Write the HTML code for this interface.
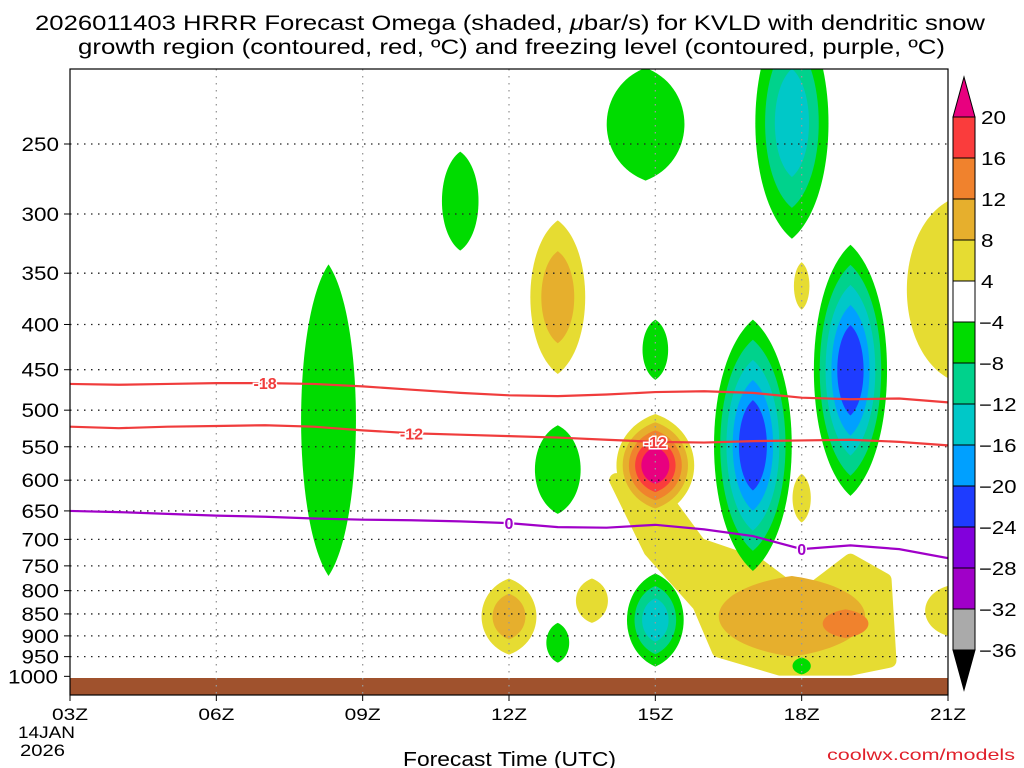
<!DOCTYPE html>
<html><head><meta charset="utf-8"><style>
html,body{margin:0;padding:0;background:#fff;width:1024px;height:768px;overflow:hidden}
svg text{font-family:"Liberation Sans",sans-serif}
</style></head><body>
<svg id="chart" width="1024" height="768" xmlns="http://www.w3.org/2000/svg">
<g id="title">
<text x="35" y="30" font-size="21" textLength="950" lengthAdjust="spacingAndGlyphs">2026011403 HRRR Forecast Omega (shaded, <tspan font-style="italic">μ</tspan>bar/s) for KVLD with dendritic snow</text>
<text x="78" y="54" font-size="21" textLength="867" lengthAdjust="spacingAndGlyphs">growth region (contoured, red, ºC) and freezing level (contoured, purple, ºC)</text>
</g>
<defs><clipPath id="pc"><rect x="70" y="69" width="878" height="626"/></clipPath></defs>
<g id="shades" clip-path="url(#pc)"></g>
<rect x="70" y="678" width="878" height="17" fill="#a0522d"/>
<g id="grid"></g>
<g id="lines" clip-path="url(#pc)"></g>
<rect x="70" y="69" width="878" height="626" fill="none" stroke="#000" stroke-width="1.2"/>
<g id="axes"></g>
<g id="cbar"></g>
<text x="403" y="766" font-size="20" textLength="213" lengthAdjust="spacingAndGlyphs">Forecast Time (UTC)</text>
<text x="827" y="760" font-size="16" textLength="188" lengthAdjust="spacingAndGlyphs" fill="#e0202a">coolwx.com/models</text>
</svg>
<script>
const xTickLabels=["03Z","06Z","09Z","12Z","15Z","18Z","21Z"];
const xTickHours=[0,3,6,9,12,15,18];
const yTicks=[250,300,350,400,450,500,550,600,650,700,750,800,850,900,950,1000];
const cbLevels=[20,16,12,8,4,-4,-8,-12,-16,-20,-24,-28,-32,-36];
const cbColors=["#e8007f","#fa3c3c","#f0822d","#e6af2d","#e6dc32","#ffffff","#00dc00","#00d28c","#00c8c8","#00a0ff","#1e3cff","#8200dc","#a000c8","#aaaaaa","#000000"];
const C={m:"#e8007f",r:"#fa3c3c",o12:"#f0822d",o8:"#e6af2d",y:"#e6dc32",g:"#00dc00",tg:"#00d28c",cy:"#00c8c8",lb:"#00a0ff",b:"#1e3cff"};
// blobs: time(h from 03Z), pTop, pBot, halfWidth(h), color bins outer->inner
const blobT=[5.3,8.0,11.8,12.0,10.0,14.0,16.0,14.8,12.0,10.0,15.0,10.0,12.0,14.8,15.9,9.0,10.7,15.0,15.0,18.0,18.0];
const blobTop=[342,255,205,395,520,395,325,175,765,870,952,305,505,770,840,775,775,340,590,290,790];
const blobBot=[770,330,275,462,655,760,625,320,975,965,995,455,660,950,905,945,870,385,670,460,900];
const blobHW=[0.6,0.4,0.85,0.28,0.5,0.85,0.8,0.8,0.62,0.25,0.2,0.6,0.85,1.6,0.5,0.6,0.35,0.17,0.2,0.9,0.5];
const blobBins=[["g"],["g"],["g"],["g"],["g"],["g","tg","cy","lb","b"],["g","tg","cy","lb","b"],["g","tg","cy"],["g","tg","cy"],["g"],["g"],["y","o8"],["y","o8","o12","r","m"],["o8"],["o12"],["y","o8"],["y"],["y"],["y"],["y"],["y"]];
const tailT=[11.2,12.3,12.9,14.1,15.0,16.0,16.7,16.8,16.0,14.55,13.3,12.9,11.9];
const tailP=[600,640,710,748,815,740,778,960,980,980,935,830,720];
const lineHours=[0,1,2,3,4,5,6,7,8,9,10,11,12,13,14,15,16,17,18];
const lineM18=[467,468,467,466,466,467,470,474,478,481,482,480,477,476,478,484,486,485,490];
const lineM12=[522,524,522,521,520,522,527,531,533,535,537,540,543,544,542,541,540,543,548];
const line0=[650,652,655,658,660,663,665,666,668,671,678,679,674,682,694,718,711,718,735];
const NS="http://www.w3.org/2000/svg";
const X=h=>70+h*(878/18);
const Y=p=>144+384*Math.log(p/250);
function mk(tag,attrs,parent){const e=document.createElementNS(NS,tag);for(const k in attrs)e.setAttribute(k,attrs[k]);parent.appendChild(e);return e;}
const sh=document.getElementById('shades');
function lens(t,top,bot,hw,k){const cx=X(t),yt=Y(top),yb=Y(bot),cy=(yt+yb)/2;const h=(yb-yt)/2*k,w=(X(hw)-X(0))*k;const a=cy-h,b=cy+h;
return `M${cx},${a} C${cx+w*1.25},${a+h*0.35} ${cx+w*1.25},${b-h*0.35} ${cx},${b} C${cx-w*1.25},${b-h*0.35} ${cx-w*1.25},${a+h*0.35} ${cx},${a}Z`;}
{let d=tailT.map((t,i)=>(i?'L':'M')+X(t)+','+Y(tailP[i])).join(' ')+'Z';
const e=mk('path',{d:d,fill:C.y,stroke:C.y,'stroke-width':14,'stroke-linejoin':'round'},sh);

}
blobT.forEach((t,i)=>{const bins=blobBins[i];bins.forEach((c,j)=>{const k=1-j*(0.8/bins.length);
const e=mk('path',{d:lens(t,blobTop[i],blobBot[i],blobHW[i],k),fill:C[c]},sh);

});});
const gr=document.getElementById('grid');
yTicks.forEach(p=>{if(p===1000)return;const e=mk('line',{x1:70,x2:948,y1:Y(p),y2:Y(p),stroke:'#222','stroke-dasharray':'1.5,5.5','stroke-width':1.3},gr);

});
xTickHours.slice(1,-1).forEach(h=>{const e=mk('line',{x1:X(h),x2:X(h),y1:69,y2:695,stroke:'#999','stroke-dasharray':'1.5,5.5','stroke-width':1.3},gr);

});
const ln=document.getElementById('lines');
function drawLine(arr,color,name,labels,txt){const d=lineHours.map((h,i)=>(i?'L':'M')+X(h)+','+Y(arr[i])).join(' ');
const e=mk('path',{d:d,fill:'none',stroke:color,'stroke-width':2.2},ln);


labels.forEach(h=>{const i=Math.round(h);const y=Y(arr[i]);
const tt=mk('text',{x:X(h),y:y+6,'font-size':16,'font-weight':'bold','text-anchor':'middle',fill:color,stroke:'#fff','stroke-width':3,'paint-order':'stroke'},ln);tt.textContent=txt;

});}
drawLine(lineM18,'#f03c3c','contour-minus18',[4],'-18');
drawLine(lineM12,'#f03c3c','contour-minus12',[7,12],'-12');
drawLine(line0,'#a000c8','freezing-level-0',[9,15],'0');
const ax=document.getElementById('axes');
yTicks.forEach(p=>{const s=String(p);const t=mk('text',{x:62-s.length*13.5,y:Y(p)+7,'font-size':19,textLength:s.length*12.5,lengthAdjust:'spacingAndGlyphs'},ax);t.textContent=s;


mk('line',{x1:64,x2:70,y1:Y(p),y2:Y(p),stroke:'#000'},ax);});
xTickHours.forEach((h,i)=>{const t=mk('text',{x:X(h)-18,y:720,'font-size':17,textLength:36,lengthAdjust:'spacingAndGlyphs'},ax);t.textContent=xTickLabels[i];


mk('line',{x1:X(h),x2:X(h),y1:695,y2:701,stroke:'#000'},ax);});
{const t1=mk('text',{x:18,y:738,'font-size':17,textLength:57,lengthAdjust:'spacingAndGlyphs'},ax);t1.textContent='14JAN';
const t2=mk('text',{x:20,y:756,'font-size':17,textLength:45,lengthAdjust:'spacingAndGlyphs'},ax);t2.textContent='2026';}
const cb=document.getElementById('cbar');
const bx=953,bw=22,by0=117,bh=41;
mk('path',{d:`M${bx},${by0} L${bx+bw/2},77 L${bx+bw},${by0}Z`,fill:cbColors[0],stroke:'#000'},cb);
for(let i=0;i<13;i++){const r=mk('rect',{x:bx,y:by0+i*bh,width:bw,height:bh,fill:cbColors[i+1],stroke:'#000'},cb);

}
mk('path',{d:`M${bx},${by0+13*bh} L${bx+bw/2},690 L${bx+bw},${by0+13*bh}Z`,fill:'#000',stroke:'#000'},cb);
cbLevels.forEach((v,i)=>{const s=v<0?'−'+(-v):String(v);const t=mk('text',{x:v<0?979:981,y:by0+i*bh+7,'font-size':18,textLength:s.length*12.5,lengthAdjust:'spacingAndGlyphs'},cb);t.textContent=s;

});
</script>
</body></html>
